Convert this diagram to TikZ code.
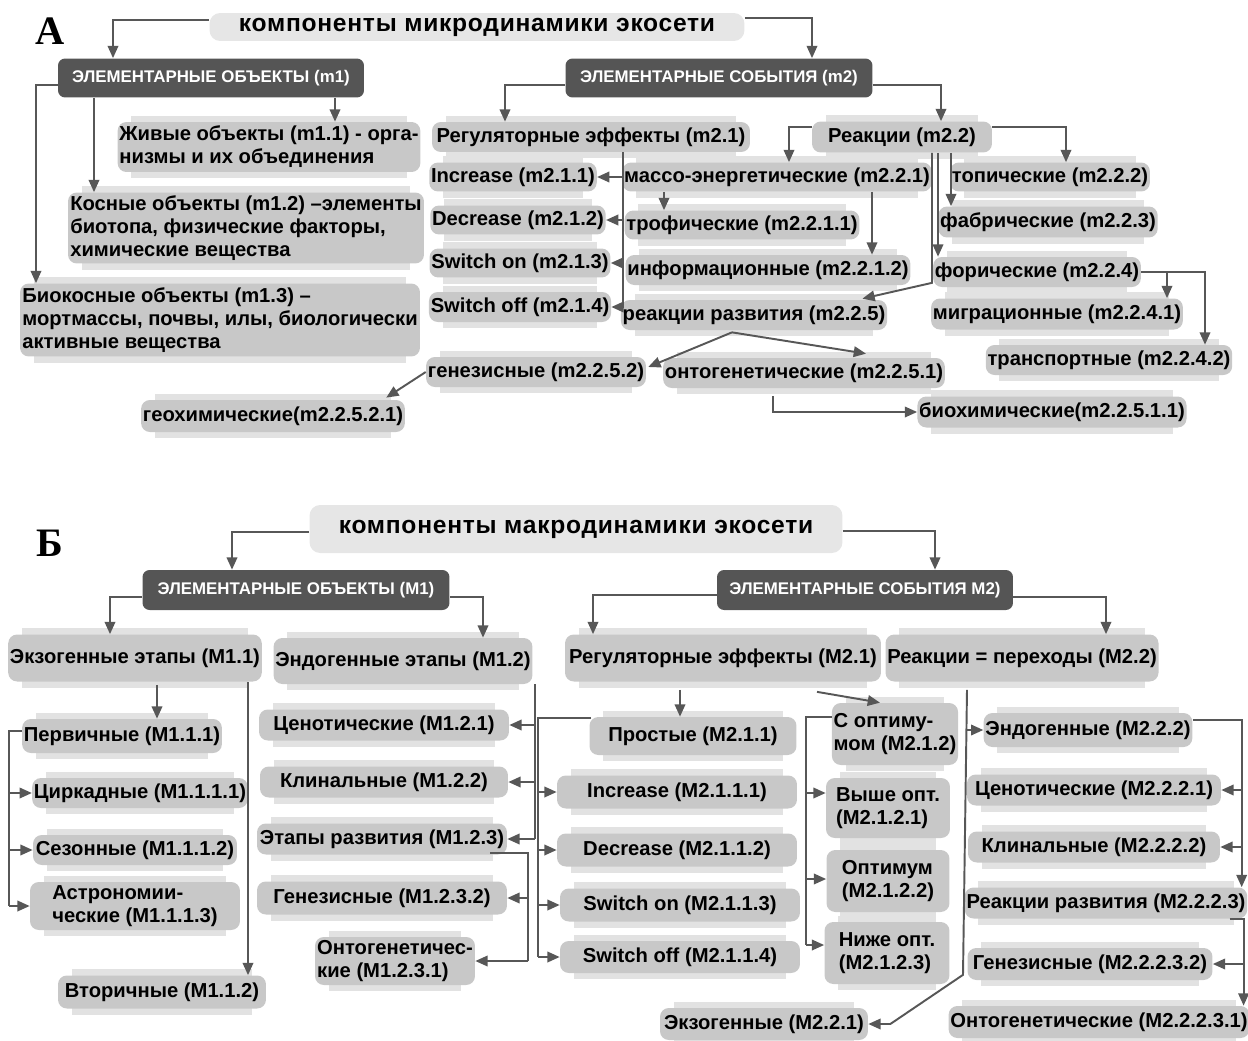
\documentclass[tikz,border=0pt]{standalone}
\usepackage{fontspec}
\setmainfont{Liberation Sans}
\newfontfamily\panelfont{Liberation Serif}
\usetikzlibrary{arrows.meta, backgrounds}
\definecolor{boxgray}{HTML}{C8C8C8}
\definecolor{padgray}{HTML}{E2E2E2}
\definecolor{ttlgray}{HTML}{E6E6E6}
\definecolor{headgray}{HTML}{555555}
\definecolor{wire}{HTML}{575757}
\tikzset{
	obj/.style={fill=boxgray, rounded corners=5pt, inner xsep=1pt, inner ysep=1pt,
		align=left, font=\bfseries\fontsize{11.5}{13}\selectfont},
	head/.style={fill=headgray, rounded corners=4pt, text=white, inner sep=1pt,
		font=\bfseries\fontsize{9.6}{11}\selectfont},
	ttl/.style={fill=ttlgray, rounded corners=6pt, inner sep=1pt,
		font=\bfseries\fontsize{14}{16}\selectfont\addfontfeature{LetterSpace=3}},
	panel/.style={font=\panelfont\bfseries\fontsize{23}{26}\selectfont},
	ln/.style={draw=wire, line width=1.1pt},
	arr/.style={ln, -{Triangle[length=7pt, width=6pt]}},
	pad/.style={fill=padgray},
}

\begin{document}
\begin{tikzpicture}[x=0.02cm, y=-0.02cm]
	\useasboundingbox (0,0) rectangle (1248,1041);

	% ---------- panel A
	\node[panel] (labA) at (50,31) {А};
	\node[ttl, minimum width=10.7cm, minimum height=0.56cm] (ttlA) at (477,27) {компоненты микродинамики экосети};
	\node[head, minimum width=6.12cm, minimum height=0.78cm] (hA1) at (211,78) {ЭЛЕМЕНТАРНЫЕ ОБЪЕКТЫ (m1)};
	\node[head, minimum width=6.14cm, minimum height=0.78cm] (hA2) at (719,78) {ЭЛЕМЕНТАРНЫЕ СОБЫТИЯ (m2)};

	\node[obj, minimum width=6.04cm, minimum height=1.0cm] (a11) at (269,147) {Живые объекты (m1.1) - орга-\\низмы и их объединения};
	\node[obj, minimum width=7.12cm, minimum height=1.42cm] (a12) at (246,228) {Косные объекты (m1.2) –элементы\\биотопа, физические факторы,\\химические вещества};
	\node[obj, minimum width=8.0cm, minimum height=1.46cm] (a13) at (220,320) {Биокосные объекты (m1.3) –\\мортмассы, почвы, илы, биологически\\активные вещества};

	\node[obj, minimum width=6.36cm, minimum height=0.6cm] (a21) at (591,137) {Регуляторные эффекты (m2.1)};
	\node[obj, minimum width=3.24cm, minimum height=0.58cm] (a211) at (513,177) {Increase (m2.1.1)};
	\node[obj, minimum width=3.4cm, minimum height=0.58cm] (a212) at (518,220) {Decrease (m2.1.2)};
	\node[obj, minimum width=3.52cm, minimum height=0.58cm] (a213) at (520,263) {Switch on (m2.1.3)};
	\node[obj, minimum width=3.52cm, minimum height=0.6cm] (a214) at (520,307) {Switch off (m2.1.4)};

	\node[obj, minimum width=3.6cm, minimum height=0.62cm] (a22) at (902,137) {Реакции (m2.2)};
	\node[obj, minimum width=6.04cm, minimum height=0.58cm] (a221) at (777,177) {массо-энергетические (m2.2.1)};
	\node[obj, minimum width=4.6cm, minimum height=0.58cm] (a2211) at (742,225) {трофические (m2.2.1.1)};
	\node[obj, minimum width=5.56cm, minimum height=0.6cm] (a2212) at (768,270) {информационные (m2.2.1.2)};
	\node[obj, minimum width=5.12cm, minimum height=0.6cm] (a225) at (754,315) {реакции развития (m2.2.5)};
	\node[obj, minimum width=4.2cm, minimum height=0.6cm] (a2252) at (536,372) {генезисные (m2.2.5.2)};
	\node[obj, minimum width=5.44cm, minimum height=0.6cm] (a2251) at (804,373) {онтогенетические (m2.2.5.1)};
	\node[obj, minimum width=5.16cm, minimum height=0.64cm] (a22521) at (273,416) {геохимические(m2.2.5.2.1)};
	\node[obj, minimum width=5.24cm, minimum height=0.62cm] (a22511) at (1052,412) {биохимические(m2.2.5.1.1)};
	\node[obj, minimum width=3.92cm, minimum height=0.58cm] (a222) at (1050,177) {топические (m2.2.2)};
	\node[obj, minimum width=4.2cm, minimum height=0.62cm] (a223) at (1048,222) {фабрические (m2.2.3)};
	\node[obj, minimum width=4.04cm, minimum height=0.6cm] (a224) at (1037,272) {форические (m2.2.4)};
	\node[obj, minimum width=4.8cm, minimum height=0.62cm] (a2241) at (1057,314) {миграционные (m2.2.4.1)};
	\node[obj, minimum width=4.76cm, minimum height=0.6cm] (a2242) at (1109,360) {транспортные (m2.2.4.2)};

	\draw[arr] ([shift={(0,-7)}]ttlA.west) -| ([shift={(-98,0)}]hA1.north);
	\draw[arr] ([shift={(0,-9)}]ttlA.east) -| ([shift={(93,0)}]hA2.north);
	\draw[arr] ([shift={(0,7)}]hA1.west) -| ([shift={(-184,0)}]a13.north);
	\draw[arr] ([shift={(-117,0)}]hA1.south) -- ([shift={(-152,0)}]a12.north);
	\draw[arr] ([shift={(124,0)}]hA1.south) -- ([shift={(66,0)}]a11.north);
	\draw[arr] ([shift={(0,7)}]hA2.west) -| ([shift={(-86,0)}]a21.north);
	\draw[arr] ([shift={(0,7)}]hA2.east) -| ([shift={(39,0)}]a22.north);

	\coordinate (busA) at ([shift={(32,0)}]a21.south);
	\draw[ln] (busA) -- (busA |- a214.east);
	\foreach \n in {a211,a212,a213,a214}
		\draw[arr] (busA |- \n.east) -- (\n.east);

	\draw[arr] ([shift={(0,-10)}]a22.west) -| ([shift={(12,0)}]a221.north);
	\draw[arr] ([shift={(0,-10)}]a22.east) -| ([shift={(16,0)}]a222.north);
	\draw[arr] ([shift={(49,0)}]a22.south) -- ([shift={(-97,0)}]a223.north);
	\draw[arr] ([shift={(36,0)}]a22.south) -- ([shift={(-99,0)}]a224.north);
	\draw[arr] ([shift={(30,0)}]a22.south) -- ++(0,130) -- ([shift={(-25,-1)}]a225.north east);
	\draw[arr] ([shift={(-113,0)}]a221.south) -- ([shift={(-78,0)}]a2211.north);
	\draw[arr] ([shift={(95,0)}]a221.south) -- ([shift={(104,0)}]a2212.north);
	\draw[arr] ([shift={(-22,2)}]a225.south) -- ([shift={(2,-5)}]a2252.east);
	\draw[arr] ([shift={(-22,2)}]a225.south) -- ([shift={(62,-4)}]a2251.north);
	\draw[arr] (a2252.west) -- ([shift={(-19,-2)}]a22521.north east);
	\draw[arr] ([shift={(-31,8)}]a2251.south) |- (a22511.west);
	\draw[arr] (a224.east) -| ([shift={(110,0)}]a2241.north);
	\draw[arr] (a224.east) -| ([shift={(96,0)}]a2242.north);

	% ---------- panel B
	\node[panel] (labB) at (50,543) {Б};
	\node[ttl, minimum width=10.66cm, minimum height=0.96cm] (ttlB) at (576,529) {компоненты макродинамики экосети};
	\node[head, minimum width=6.14cm, minimum height=0.8cm] (hB1) at (296,590) {ЭЛЕМЕНТАРНЫЕ ОБЪЕКТЫ (М1)};
	\node[head, minimum width=5.92cm, minimum height=0.8cm] (hB2) at (865,590) {ЭЛЕМЕНТАРНЫЕ СОБЫТИЯ М2)};

	\node[obj, minimum width=4.94cm, minimum height=0.94cm] (b11) at (135,658) {Экзогенные этапы (М1.1)};
	\node[obj, minimum width=5.08cm, minimum height=0.92cm] (b12) at (403,661) {Эндогенные этапы (М1.2)};
	\node[obj, minimum width=6.32cm, minimum height=0.94cm] (b21) at (723,658) {Регуляторные эффекты (М2.1)};
	\node[obj, minimum width=5.24cm, minimum height=0.94cm] (b22) at (1022,658) {Реакции = переходы (М2.2)};

	\node[obj, minimum width=3.88cm, minimum height=0.68cm] (b111) at (122,736) {Первичные (М1.1.1)};
	\node[obj, minimum width=4.2cm, minimum height=0.6cm] (b1111) at (140,793) {Циркадные (М1.1.1.1)};
	\node[obj, minimum width=4.08cm, minimum height=0.6cm] (b1112) at (135,850) {Сезонные (М1.1.1.2)};
	\node[obj, minimum width=4.2cm, minimum height=0.96cm] (b1113) at (135,906) {Астрономии-\\ческие (М1.1.1.3)};
	\node[obj, minimum width=4.16cm, minimum height=0.66cm] (b112) at (162,992) {Вторичные (М1.1.2)};

	\node[obj, minimum width=5.0cm, minimum height=0.62cm] (b121) at (384,725) {Ценотические (М1.2.1)};
	\node[obj, minimum width=4.96cm, minimum height=0.62cm] (b122) at (384,782) {Клинальные (М1.2.2)};
	\node[obj, minimum width=5.0cm, minimum height=0.62cm] (b123) at (382,839) {Этапы развития (М1.2.3)};
	\node[obj, minimum width=5.0cm, minimum height=0.66cm] (b1232) at (382,898) {Генезисные (М1.2.3.2)};
	\node[obj, minimum width=3.2cm, minimum height=0.96cm] (b1231) at (395,961) {Онтогенетичес-\\кие (М1.2.3.1)};

	\node[obj, minimum width=4.14cm, minimum height=0.76cm] (b211) at (693,736) {Простые (М2.1.1)};
	\node[obj, minimum width=4.8cm, minimum height=0.66cm] (b2111) at (677,792) {Increase (М2.1.1.1)};
	\node[obj, minimum width=4.8cm, minimum height=0.66cm] (b2112) at (677,850) {Decrease (М2.1.1.2)};
	\node[obj, minimum width=4.8cm, minimum height=0.66cm] (b2113) at (680,905) {Switch on (М2.1.1.3)};
	\node[obj, minimum width=4.8cm, minimum height=0.64cm] (b2114) at (680,957) {Switch off (М2.1.1.4)};

	\node[obj, minimum width=2.5cm, minimum height=1.24cm] (b212) at (895,734) {С оптиму-\\мом (М2.1.2)};
	\node[obj, minimum width=2.48cm, minimum height=1.2cm] (b2121) at (888,808) {Выше опт.\\(М2.1.2.1)};
	\node[obj, minimum width=2.46cm, minimum height=1.24cm] (b2122) at (888,881) {Оптимум\\(М2.1.2.2)};
	\node[obj, minimum width=2.5cm, minimum height=1.24cm] (b2123) at (887,953) {Ниже опт.\\(М2.1.2.3)};

	\node[obj, minimum width=4.16cm, minimum height=0.64cm] (b221) at (764,1024) {Экзогенные (М2.2.1)};
	\node[obj, minimum width=4.14cm, minimum height=0.68cm] (b222) at (1088,730) {Эндогенные (М2.2.2)};
	\node[obj, minimum width=5.08cm, minimum height=0.62cm] (b2221) at (1094,790) {Ценотические (М2.2.2.1)};
	\node[obj, minimum width=5.04cm, minimum height=0.62cm] (b2222) at (1094,847) {Клинальные (М2.2.2.2)};
	\node[obj, minimum width=5.54cm, minimum height=0.62cm] (b2223) at (1106,903) {Реакции развития (М2.2.2.3)};
	\node[obj, minimum width=4.9cm, minimum height=0.64cm] (b22232) at (1090,964) {Генезисные (М2.2.2.3.2)};
	\node[obj, minimum width=5.84cm, minimum height=0.64cm] (b22231) at (1099,1022) {Онтогенетические (М2.2.2.3.1)};

	\draw[arr] ([shift={(0,3)}]ttlB.west) -| ([shift={(-64,0)}]hB1.north);
	\draw[arr] ([shift={(0,2)}]ttlB.east) -| ([shift={(70,0)}]hB2.north);
	\draw[arr] ([shift={(0,7)}]hB1.west) -| ([shift={(-25,0)}]b11.north);
	\draw[arr] ([shift={(0,7)}]hB1.east) -| ([shift={(80,0)}]b12.north);
	\draw[arr] ([shift={(0,5)}]hB2.west) -| ([shift={(-130,0)}]b21.north);
	\draw[arr] ([shift={(0,7)}]hB2.east) -| ([shift={(84,0)}]b22.north);

	\draw[arr] ([shift={(22,3)}]b11.south) -- ([shift={(35,0)}]b111.north);
	\draw[arr] ([shift={(113,0)}]b11.south) -- ([shift={(86,0)}]b112.north);
	\coordinate (busB1) at ([shift={(-13,-5)}]b111.west);
	\draw[ln] ([shift={(0,-5)}]b111.west) -- (busB1) -- (busB1 |- b1113.west);
	\foreach \n in {b1111,b1112,b1113}
		\draw[arr] (busB1 |- \n.west) -- (\n.west);

	\coordinate (busB2) at ([shift={(2,0)}]b12.south east);
	\draw[ln] (busB2) -- (busB2 |- b123.east);
	\foreach \n in {b121,b122,b123}
		\draw[arr] (busB2 |- \n.east) -- (\n.east);
	\coordinate (busB3) at ([shift={(21,-2)}]b123.south east);
	\draw[ln] ([shift={(-17,-2)}]b123.south east) -- (busB3) -- (busB3 |- b1231.east);
	\foreach \n in {b1232,b1231}
		\draw[arr] (busB3 |- \n.east) -- (\n.east);

	\draw[arr] ([shift={(-43,8)}]b21.south) -- ([shift={(-13,0)}]b211.north);
	\draw[arr] ([shift={(94,10)}]b21.south) -- ([shift={(-15,0)}]b212.north);
	\coordinate (busB4) at ([shift={(-51,1)}]b211.north west);
	\draw[ln] ([shift={(2,1)}]b211.north west) -- (busB4) -- (busB4 |- b2114.west);
	\foreach \n in {b2111,b2112,b2113,b2114}
		\draw[arr] (busB4 |- \n.west) -- (\n.west);
	\coordinate (busB5) at ([shift={(-26,-17)}]b212.west);
	\coordinate (lowB5) at ([shift={(0,-8)}]b2123.west);
	\draw[ln] ([shift={(0,-17)}]b212.west) -- (busB5) -- (busB5 |- lowB5);
	\foreach \n/\dy in {b2121/-15, b2122/-2, b2123/-8} {
		\coordinate (tip) at ([shift={(0,\dy)}]\n.west);
		\draw[arr] (busB5 |- tip) -- (tip);
	}

	\draw[arr] ([shift={(-55,8)}]b22.south) -- ++(-4,285) -- ([shift={(22,0)}]b221.east) -- (b221.east);
	\draw[arr] ([shift={(-17,0)}]b222.west) -- (b222.west);
	\coordinate (busB6) at ([shift={(49,-10)}]b222.east);
	\draw[arr] ([shift={(0,-10)}]b222.east) -- (busB6) -- (busB6 |- b2223.north);
	\foreach \n in {b2221,b2222}
		\draw[arr] (busB6 |- \n.east) -- (\n.east);
	\coordinate (busB7) at ([shift={(-4,0)}]b2223.south east);
	\draw[arr] ([shift={(-18,0)}]b2223.south east) -- (busB7) -- (busB7 |- b22231.north);
	\draw[arr] (busB7 |- b22232.east) -- (b22232.east);

	% pale bands behind the grey boxes
	\begin{scope}[on background layer]
		\foreach \n in {a11,a12,a13,a21,a211,a212,a213,a214,a22,a221,a2211,a2212,a225,a2252,a2251,a22521,a22511,a222,a223,a224,a2241,a2242,
			b11,b12,b21,b22,b111,b1111,b1112,b1113,b112,b121,b122,b123,b1232,b1231,b211,b2111,b2112,b2113,b2114,
			b212,b2121,b2122,b2123,b221,b222,b2221,b2222,b2223,b22232,b22231}
			\fill[pad] ([shift={(14,-6)}]\n.north west) rectangle ([shift={(-14,6)}]\n.south east);
	\end{scope}
\end{tikzpicture}
\end{document}
